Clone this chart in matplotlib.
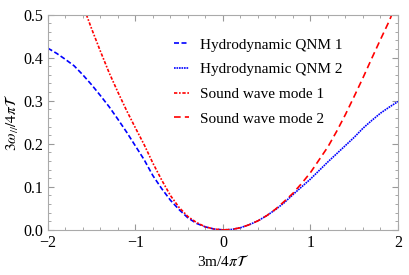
import matplotlib
matplotlib.use("Agg")
import matplotlib.pyplot as plt
from matplotlib.ticker import MultipleLocator

plt.rcParams['font.family'] = ['Liberation Serif', 'DejaVu Serif']
plt.rcParams['mathtext.fontset'] = 'stix'

# data
x_left = [-2.0, -1.9, -1.8, -1.7, -1.6, -1.5, -1.4, -1.3, -1.2, -1.1, -1.0,
          -0.9, -0.8, -0.7, -0.6, -0.5, -0.4, -0.3, -0.2, -0.1, 0.0]
qnm1 = [0.422, 0.410, 0.396, 0.381, 0.360, 0.337, 0.312, 0.286, 0.257, 0.227, 0.195,
        0.163, 0.126, 0.096, 0.069, 0.047, 0.028, 0.015, 0.007, 0.002, 0.0]

x_right = [0.0, 0.1, 0.2, 0.3, 0.4, 0.5, 0.6, 0.7, 0.8, 0.9, 1.0,
           1.1, 1.2, 1.3, 1.4, 1.5, 1.6, 1.7, 1.8, 1.9, 2.0]
qnm2 = [0.0, 0.001, 0.005, 0.012, 0.021, 0.033, 0.047, 0.063, 0.082, 0.100, 0.118,
        0.138, 0.158, 0.177, 0.196, 0.215, 0.236, 0.254, 0.271, 0.285, 0.298]

x_sound1 = [-1.56, -1.5, -1.4, -1.3, -1.2, -1.1, -1.0, -0.9, -0.8, -0.7, -0.6,
            -0.5, -0.4, -0.3, -0.2, -0.1, 0.0]
sound1 = [0.500, 0.467, 0.415, 0.365, 0.320, 0.277, 0.237, 0.198, 0.155, 0.116, 0.080,
          0.052, 0.031, 0.017, 0.007, 0.002, 0.0]

x_sound2 = [0.0, 0.1, 0.2, 0.3, 0.4, 0.5, 0.6, 0.7, 0.8, 0.9, 1.0,
            1.1, 1.2, 1.3, 1.4, 1.5, 1.6, 1.7, 1.8, 1.9, 1.93]
sound2 = [0.0, 0.001, 0.005, 0.012, 0.021, 0.033, 0.048, 0.066, 0.085, 0.108, 0.133,
          0.163, 0.193, 0.229, 0.268, 0.310, 0.353, 0.398, 0.442, 0.485, 0.500]

fig = plt.figure(figsize=(4.09, 2.75), dpi=100)
ax = fig.add_axes([0.117, 0.164, 0.856, 0.783])

ax.plot(x_left, qnm1, color='#0000ff', lw=1.2, ls=(0, (3, 1.5)), label='Hydrodynamic QNM 1')
ax.plot(x_right, qnm2, color='#0000ff', lw=1.2, ls=(0, (1, 0.5)), label='Hydrodynamic QNM 2')
ax.plot(x_sound1, sound1, color='#ff0000', lw=1.2, ls=(0, (2, 1, 1, 1)), label='Sound wave mode 1')
ax.plot(x_sound2, sound2, color='#ff0000', lw=1.2, ls=(0, (4, 2.5)), label='Sound wave mode 2')

ax.set_xlim(-2, 2)
ax.set_ylim(0, 0.5)
ax.xaxis.set_major_locator(MultipleLocator(1))
ax.xaxis.set_minor_locator(MultipleLocator(0.2))
ax.yaxis.set_major_locator(MultipleLocator(0.1))
ax.yaxis.set_minor_locator(MultipleLocator(0.02))
ax.yaxis.set_major_formatter(plt.FormatStrFormatter('%.1f'))

for s in ax.spines.values():
    s.set_color('#aaaaaa')
ax.tick_params(which='both', direction='in', top=True, right=True, color='#999999',
               labelsize=11.5, labelcolor='black')
ax.tick_params(which='major', length=4)
ax.tick_params(which='minor', length=2)

ax.set_xlabel(r'3m/4$\pi\mathcal{T}$', fontsize=11, labelpad=2)
ax.set_ylabel(r'$3\omega_{//}/4\pi\mathcal{T}$', fontsize=11)
ax.yaxis.set_label_coords(-0.078, 0.5)

ax.legend(loc='upper left', bbox_to_anchor=(0.32, 0.955), frameon=False, fontsize=11,
          handlelength=1.0, handletextpad=0.7, labelspacing=0.72)

fig.savefig('out.png', dpi=100)
